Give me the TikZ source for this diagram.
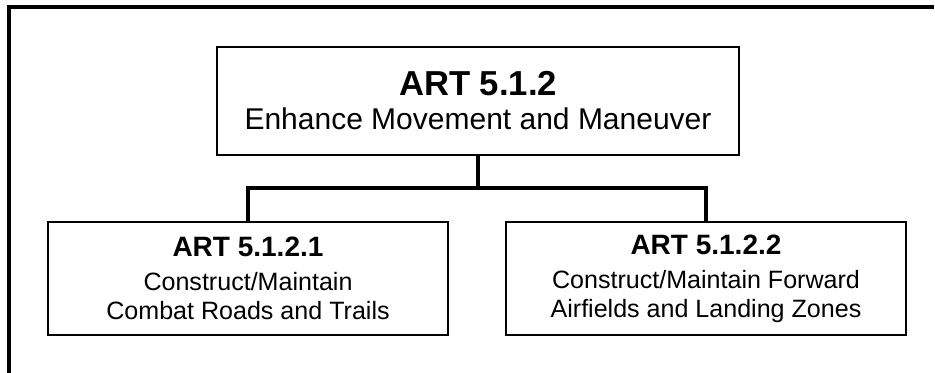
\documentclass[tikz,border=0pt]{standalone}
\usepackage{fontspec}
\setmainfont{Liberation Sans}
\begin{document}
\begin{tikzpicture}[x=0.75pt,y=-0.75pt]
% estilos
\tikzset{
  artbox/.style={draw, line width=1.9pt, align=center, inner sep=0pt},
  parentbox/.style={artbox, minimum width=391.5pt, minimum height=81pt,
    font=\fontsize{22.5}{25.5}\selectfont},
  childbox/.style={artbox, minimum width=300pt, minimum height=84.75pt,
    font=\fontsize{18.8}{21.75}\selectfont},
  link/.style={line width=3.4pt}
}
\useasboundingbox (0,0) rectangle (935,373);
\draw[line width=2.3pt] (9,373) -- (9,7) -- (934,7);

\node[parentbox] (main) at (478,101)
  {{\bfseries\fontsize{26}{25.5}\selectfont ART 5.1.2}\\Enhance Movement and Maneuver};
\node[childbox] (roads) at (248,278.5)
  {{\bfseries\fontsize{21}{21.75}\selectfont ART 5.1.2.1}\\[4pt]Construct/Maintain\\Combat Roads and Trails};
\node[childbox] (fields) at (706,278.5)
  {{\bfseries\fontsize{21}{21.75}\selectfont ART 5.1.2.2}\\[4pt]Construct/Maintain Forward\\Airfields and Landing Zones};

\coordinate (bar) at (478,188);
\draw[link] (main.south) -- (bar);
\draw[link] (roads.north) |- (bar) -| (fields.north);
\end{tikzpicture}
\end{document}
